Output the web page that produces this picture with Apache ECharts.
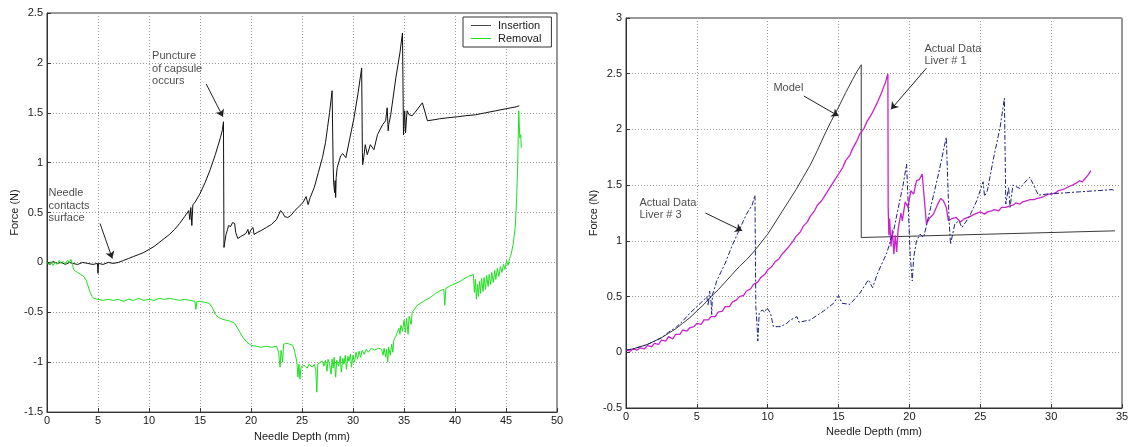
<!DOCTYPE html>
<html>
<head>
<meta charset="utf-8">
<script src="https://cdn.jsdelivr.net/npm/echarts@6/dist/echarts.min.js"></script>
<style>
html,body{margin:0;padding:0;background:#fff;}
#c{width:1140px;height:447px;}
</style>
</head>
<body>
<div id="c"></div>
<script>
// ---------- data ----------
const insertion = [[0,0],[0.3,-0.02],[0.6,0.01],[1,-0.01],[1.4,0.0],[1.8,-0.02],[2.2,0.0],[2.5,-0.01],[3,-0.02],[3.5,0],[4,-0.01],[4.5,-0.02],[4.95,-0.01],[5.0,-0.11],[5.05,-0.01],[5.5,-0.02],[6,0],[6.5,-0.01],[7,0.0],[7.5,0.02],[8,0.04],[8.5,0.06],[9,0.08],[9.5,0.1],[10,0.13],[10.5,0.16],[11,0.2],[11.5,0.24],[12,0.28],[12.5,0.33],[13,0.39],[13.5,0.46],[13.9,0.52],[14.0,0.43],[14.1,0.55],[14.2,0.37],[14.3,0.58],[14.5,0.6],[15,0.69],[15.5,0.8],[16,0.93],[16.5,1.08],[17,1.25],[17.2,1.33],[17.3,1.41],[17.35,0.15],[17.45,0.13],[17.55,0.28],[17.7,0.33],[17.8,0.37],[18.0,0.36],[18.2,0.4],[18.4,0.39],[18.5,0.3],[18.7,0.24],[19.0,0.26],[19.5,0.29],[19.7,0.33],[19.8,0.28],[20.0,0.33],[20.2,0.35],[20.3,0.28],[20.6,0.3],[21,0.32],[21.5,0.35],[22,0.38],[22.5,0.43],[22.9,0.52],[23.1,0.5],[23.3,0.46],[23.6,0.45],[23.9,0.47],[24.3,0.52],[24.7,0.56],[25.1,0.6],[25.4,0.66],[25.6,0.58],[25.8,0.65],[26.2,0.75],[26.6,0.9],[27.0,1.05],[27.3,1.2],[27.5,1.35],[27.7,1.5],[27.95,1.72],[28.05,1.0],[28.1,0.8],[28.2,0.7],[28.25,0.82],[28.3,0.65],[28.35,0.85],[28.45,0.95],[28.8,1.07],[29.0,1.09],[29.3,1.05],[29.7,1.25],[30.1,1.45],[30.5,1.7],[30.85,1.95],[30.92,1.1],[30.95,0.98],[31.05,1.05],[31.2,1.18],[31.4,1.08],[31.7,1.18],[32.05,1.13],[32.4,1.28],[32.9,1.38],[33.2,1.42],[33.35,1.55],[33.45,1.32],[33.5,1.38],[33.7,1.48],[34.2,1.85],[34.6,2.1],[34.85,2.3],[34.95,1.28],[35.07,1.52],[35.15,1.3],[35.3,1.52],[35.5,1.48],[35.8,1.47],[36.05,1.5],[36.8,1.6],[37.3,1.42],[37.95,1.43],[38.5,1.44],[39.3,1.45],[40.25,1.46],[41,1.47],[42,1.48],[43,1.5],[44,1.52],[45,1.54],[46,1.56],[46.3,1.57]];

const removal = [[0,0],[0.2,-0.02],[0.4,0.01],[0.6,-0.03],[0.8,0.0],[1.0,-0.02],[1.2,0.02],[1.4,-0.01],[1.6,0.01],[1.8,-0.02],[2.0,0.02],[2.2,0.0],[2.35,0.03],[2.5,-0.02],[2.6,-0.07],[2.8,-0.09],[3.0,-0.1],[3.3,-0.12],[3.6,-0.14],[3.85,-0.18],[4.0,-0.23],[4.2,-0.29],[4.4,-0.34],[4.6,-0.36],[5.0,-0.37],[5.5,-0.38],[6,-0.37],[6.5,-0.38],[7,-0.37],[7.5,-0.39],[8,-0.37],[8.5,-0.38],[9,-0.36],[9.5,-0.38],[10,-0.37],[10.5,-0.38],[11,-0.36],[11.5,-0.37],[12,-0.36],[12.5,-0.37],[13,-0.38],[13.5,-0.37],[14,-0.38],[14.5,-0.39],[14.6,-0.47],[14.7,-0.39],[15,-0.39],[15.5,-0.4],[15.9,-0.41],[16.2,-0.45],[16.5,-0.52],[16.8,-0.55],[17.2,-0.57],[17.6,-0.58],[18,-0.59],[18.4,-0.61],[18.8,-0.68],[19.2,-0.75],[19.6,-0.8],[20,-0.83],[20.5,-0.84],[21,-0.85],[21.5,-0.84],[22,-0.85],[22.5,-0.84],[22.7,-0.9],[22.85,-1.05],[22.95,-0.88],[23.1,-1.0],[23.2,-0.82],[23.5,-0.81],[23.8,-0.82],[24.1,-0.83],[24.3,-0.9],[24.5,-1.0],[24.6,-1.15],[24.7,-1.02],[24.8,-1.17],[24.9,-1.05],[25.2,-1.03],[25.5,-1.06],[25.7,-1.02],[26.0,-1.05],[26.2,-1.02],[26.35,-1.08],[26.45,-1.3],[26.55,-1.02],[26.8,-1.0],[27.0,-0.99],[27.15,-1.04],[27.3,-0.98],[27.45,-1.09],[27.55,-0.97],[27.7,-1.02],[27.85,-1.12],[27.95,-0.97],[28.05,-1.06],[28.15,-0.95],[28.3,-1.15],[28.4,-0.98],[28.6,-1.04],[28.75,-0.94],[28.85,-1.1],[29.0,-0.96],[29.1,-1.02],[29.25,-0.93],[29.35,-1.07],[29.5,-0.94],[29.6,-0.99],[29.75,-0.92],[29.85,-1.05],[30.0,-0.93],[30.15,-1.0],[30.3,-0.9],[30.45,-0.97],[30.6,-0.89],[30.75,-0.95],[30.9,-0.88],[31.1,-0.92],[31.3,-0.87],[31.5,-0.9],[31.8,-0.86],[32.1,-0.88],[32.5,-0.86],[32.8,-0.87],[32.95,-0.93],[33.05,-0.86],[33.2,-0.95],[33.3,-0.87],[33.4,-1.0],[33.5,-0.85],[33.65,-0.93],[33.8,-0.82],[33.9,-0.9],[34.0,-0.78],[34.2,-0.74],[34.35,-0.7],[34.5,-0.66],[34.6,-0.72],[34.7,-0.63],[34.85,-0.69],[35.0,-0.58],[35.15,-0.7],[35.25,-0.56],[35.4,-0.72],[35.5,-0.54],[35.7,-0.62],[35.8,-0.5],[36.3,-0.43],[36.9,-0.39],[37.6,-0.35],[38.1,-0.31],[38.6,-0.28],[38.9,-0.27],[39.0,-0.43],[39.1,-0.26],[39.6,-0.23],[40.3,-0.2],[40.8,-0.17],[41.3,-0.14],[41.8,-0.12],[41.9,-0.3],[42.0,-0.17],[42.1,-0.37],[42.2,-0.22],[42.3,-0.34],[42.4,-0.19],[42.5,-0.31],[42.6,-0.16],[42.75,-0.29],[42.85,-0.15],[43.0,-0.27],[43.1,-0.13],[43.25,-0.24],[43.35,-0.12],[43.5,-0.22],[43.6,-0.1],[43.75,-0.2],[43.9,-0.08],[44.0,-0.17],[44.15,-0.06],[44.3,-0.14],[44.45,-0.04],[44.6,-0.1],[44.75,-0.02],[44.9,-0.07],[45.05,0.02],[45.2,-0.03],[45.35,0.04],[45.5,0.08],[45.7,0.18],[45.9,0.35],[46.05,0.65],[46.15,1.0],[46.25,1.52],[46.35,1.25],[46.45,1.28],[46.5,1.15]];

const model = [[0,0.02],[0.5,0.03],[1,0.05],[1.5,0.07],[2,0.1],[2.5,0.13],[3,0.17],[3.5,0.21],[4,0.26],[4.5,0.31],[5,0.37],[5.5,0.43],[6,0.5],[6.5,0.56],[7,0.63],[7.5,0.7],[8,0.77],[8.5,0.83],[9,0.9],[9.5,0.98],[10,1.06],[10.5,1.16],[11,1.26],[11.5,1.36],[12,1.46],[12.5,1.57],[13,1.68],[13.5,1.81],[14,1.95],[14.5,2.08],[15,2.2],[15.5,2.33],[16,2.45],[16.3,2.52],[16.6,2.58],[16.6,1.03],[34.5,1.09]];

const liver1 = [[0,0.02],[0.3,0.01],[0.5,0.03],[0.8,0.02],[1,0.04],[1.3,0.03],[1.5,0.06],[1.8,0.05],[2,0.08],[2.3,0.07],[2.5,0.11],[2.8,0.1],[3,0.14],[3.3,0.12],[3.5,0.16],[3.8,0.16],[4,0.2],[4.3,0.19],[4.5,0.22],[4.8,0.23],[5,0.26],[5.3,0.25],[5.5,0.29],[5.8,0.29],[6,0.32],[6.3,0.32],[6.5,0.36],[6.8,0.37],[7,0.41],[7.3,0.41],[7.5,0.45],[7.8,0.47],[8,0.5],[8.3,0.51],[8.5,0.55],[8.8,0.57],[9,0.61],[9.3,0.63],[9.5,0.67],[9.8,0.7],[10,0.74],[10.3,0.77],[10.5,0.81],[10.8,0.84],[11,0.88],[11.3,0.92],[11.5,0.95],[11.8,1.0],[12,1.04],[12.3,1.08],[12.5,1.13],[12.8,1.17],[13,1.22],[13.3,1.27],[13.5,1.32],[13.8,1.36],[14,1.4],[14.3,1.46],[14.5,1.5],[14.8,1.56],[15,1.6],[15.3,1.66],[15.5,1.72],[15.8,1.77],[16,1.83],[16.3,1.9],[16.5,1.96],[16.8,2.01],[17,2.07],[17.3,2.13],[17.5,2.18],[17.8,2.26],[18,2.32],[18.3,2.42],[18.48,2.5],[18.5,1.3],[18.55,1.05],[18.6,1.2],[18.7,0.95],[18.8,1.1],[18.9,0.88],[19.0,1.05],[19.1,0.9],[19.2,1.1],[19.4,1.25],[19.5,1.18],[19.7,1.35],[19.9,1.3],[20.1,1.45],[20.3,1.42],[20.5,1.54],[20.7,1.55],[20.9,1.6],[21.0,1.45],[21.2,1.15],[21.4,1.2],[21.7,1.24],[22.0,1.33],[22.2,1.38],[22.4,1.36],[22.6,1.3],[22.75,1.18],[23.0,1.2],[23.3,1.21],[23.6,1.17],[23.9,1.2],[24.3,1.22],[24.6,1.24],[25,1.26],[25.3,1.24],[25.5,1.26],[25.8,1.27],[26,1.28],[26.3,1.27],[26.5,1.3],[26.8,1.3],[27,1.31],[27.3,1.32],[27.5,1.34],[27.8,1.33],[28,1.35],[28.3,1.36],[28.5,1.37],[28.8,1.37],[29,1.38],[29.3,1.39],[29.5,1.4],[29.8,1.42],[30,1.42],[30.3,1.43],[30.5,1.45],[30.8,1.46],[31,1.47],[31.3,1.49],[31.5,1.5],[31.8,1.52],[32,1.54],[32.2,1.53],[32.4,1.56],[32.6,1.59],[32.8,1.63]];

const liver3 = [[0,0.02],[0.5,0.03],[1,0.05],[1.5,0.07],[2,0.1],[2.5,0.13],[3,0.18],[3.5,0.22],[4,0.28],[4.5,0.35],[5,0.41],[5.5,0.47],[5.7,0.5],[5.8,0.42],[5.9,0.55],[6.0,0.45],[6.05,0.34],[6.1,0.52],[6.2,0.55],[6.4,0.64],[6.7,0.72],[7.0,0.8],[7.5,0.96],[8.0,1.1],[8.5,1.24],[8.9,1.32],[9.1,1.41],[9.16,0.41],[9.24,0.26],[9.3,0.1],[9.4,0.35],[9.6,0.38],[9.8,0.36],[9.95,0.4],[10.2,0.35],[10.4,0.23],[10.9,0.23],[11.35,0.26],[11.6,0.29],[12.06,0.32],[12.2,0.27],[13.0,0.29],[13.94,0.37],[14.65,0.44],[15.0,0.51],[15.24,0.44],[15.8,0.43],[16.5,0.53],[17.1,0.65],[17.2,0.66],[17.4,0.58],[17.7,0.69],[18.0,0.78],[18.4,0.89],[18.9,1.1],[19.3,1.35],[19.55,1.5],[19.8,1.69],[20.05,0.88],[20.16,0.7],[20.2,0.64],[20.3,0.85],[20.5,1.0],[20.75,1.06],[21.0,1.03],[21.5,1.3],[22.05,1.6],[22.6,1.93],[22.8,1.18],[22.9,0.97],[23.2,1.15],[23.5,1.18],[23.7,1.12],[24.2,1.21],[24.75,1.36],[25.2,1.53],[25.3,1.4],[25.5,1.45],[25.9,1.72],[26.4,2.02],[26.7,2.28],[26.8,1.33],[27.0,1.48],[27.1,1.3],[27.3,1.5],[27.8,1.47],[28.1,1.52],[28.5,1.57],[29.1,1.41],[29.7,1.42],[30.9,1.43],[32.0,1.44],[33.2,1.45],[34.3,1.46],[34.5,1.45]];

// ---------- chart ----------
const FONT = '"Liberation Sans", Arial, sans-serif';
const TXT = '#1a1a1a';
const chart = echarts.init(document.getElementById('c'), null, {renderer: 'canvas'});

function xAx(grid, max, name) {
  return {
    type: 'value', gridIndex: grid, min: 0, max: max, interval: 5,
    name: name, nameLocation: 'middle', nameGap: 17,
    nameTextStyle: {fontFamily: FONT, fontSize: 11, color: TXT},
    axisLine: {show: true, onZero: false, lineStyle: {color: '#333', width: 1}},
    axisTick: {show: true, inside: true, length: 4, lineStyle: {color: '#333'}},
    axisLabel: {fontFamily: FONT, fontSize: 11, color: TXT, margin: 3},
    splitLine: {show: true, lineStyle: {type: [1, 2], color: '#9a9a9a', width: 1}}
  };
}
function yAx(grid, min, max, gap) {
  return {
    type: 'value', gridIndex: grid, min: min, max: max, interval: 0.5,
    name: 'Force (N)', nameLocation: 'middle', nameGap: gap,
    nameTextStyle: {fontFamily: FONT, fontSize: 11, color: TXT},
    axisLine: {show: true, onZero: false, lineStyle: {color: '#333', width: 1}},
    axisTick: {show: true, inside: true, length: 4, lineStyle: {color: '#333'}},
    axisLabel: {fontFamily: FONT, fontSize: 11, color: TXT, margin: 4},
    splitLine: {show: true, lineStyle: {type: [1, 2], color: '#9a9a9a', width: 1}}
  };
}
function arrow(from, to) {
  return [{coord: from}, {coord: to}];
}
function note(xi, yi, pos, text) {
  return {
    type: 'scatter', xAxisIndex: xi, yAxisIndex: yi, symbolSize: 0, silent: true,
    data: [pos], z: 5,
    label: {show: true, position: 'right', distance: 0, formatter: text,
      fontFamily: FONT, fontSize: 11, color: TXT, lineHeight: 12.5, align: 'left', verticalAlign: 'middle'}
  };
}
const arrowStyle = {color: '#222', width: 1, type: 'solid'};

chart.setOption({
  animation: false,
  backgroundColor: '#fff',
  grid: [
    {left: 47, right: 583, top: 13, bottom: 34, show: true, borderColor: '#333', borderWidth: 1, backgroundColor: '#fff'},
    {left: 626, right: 18, top: 18, bottom: 39, show: true, borderColor: '#333', borderWidth: 1, backgroundColor: '#fff'}
  ],
  xAxis: [xAx(0, 50, 'Needle Depth (mm)'), xAx(1, 35, 'Needle Depth (mm)')],
  yAxis: [yAx(0, -1.5, 2.5, 27), yAx(1, -0.5, 3, 23)],
  legend: {
    data: ['Insertion', 'Removal'], orient: 'vertical', left: 463, top: 17,
    backgroundColor: '#fff', borderColor: '#333', borderWidth: 1,
    padding: [3, 10, 3, 8], itemGap: 2, itemWidth: 20, itemHeight: 1, icon: 'rect',
    textStyle: {fontFamily: FONT, fontSize: 11, color: TXT, padding: [0, 0, 0, 2]}
  },
  series: [
    {name: 'Insertion', type: 'line', xAxisIndex: 0, yAxisIndex: 0, data: insertion, showSymbol: false,
      lineStyle: {color: '#111', width: 1}, itemStyle: {color: '#444'},
      markLine: {silent: true, symbol: ['none', 'arrow'], symbolSize: 7, label: {show: false},
        lineStyle: arrowStyle,
        data: [arrow([5.2, 0.39], [6.4, 0.04]), arrow([15.6, 1.79], [17.25, 1.46])]}},
    {name: 'Removal', type: 'line', xAxisIndex: 0, yAxisIndex: 0, data: removal, showSymbol: false,
      lineStyle: {color: '#1ee01e', width: 1}, itemStyle: {color: '#1ee01e'}},
    {name: 'Model', type: 'line', xAxisIndex: 1, yAxisIndex: 1, data: model, showSymbol: false,
      lineStyle: {color: '#3a3a3a', width: 1}, itemStyle: {color: '#3a3a3a'},
      markLine: {silent: true, symbol: ['none', 'arrow'], symbolSize: 7, label: {show: false},
        lineStyle: arrowStyle,
        data: [arrow([12.55, 2.3], [15.0, 2.12]), arrow([21.2, 2.55], [18.7, 2.18]), arrow([5.6, 1.25], [8.2, 1.09])]}},
    {name: 'Actual Data Liver # 1', type: 'line', xAxisIndex: 1, yAxisIndex: 1, data: liver1, showSymbol: false,
      lineStyle: {color: '#cc22cc', width: 1.3}, itemStyle: {color: '#cc22cc'}},
    {name: 'Actual Data Liver # 3', type: 'line', xAxisIndex: 1, yAxisIndex: 1, data: liver3, showSymbol: false,
      lineStyle: {color: '#1c2380', width: 1, type: [5, 2, 2, 2]}, itemStyle: {color: '#1c2380'}},
    note(0, 0, [0.15, 0.57], 'Needle\ncontacts\nsurface'),
    note(0, 0, [10.3, 1.94], 'Puncture\nof capsule\noccurs'),
    note(1, 1, [10.4, 2.37], 'Model'),
    note(1, 1, [21.06, 2.67], 'Actual Data\nLiver # 1'),
    note(1, 1, [0.95, 1.285], 'Actual Data\nLiver # 3')
  ]
});
</script>
</body>
</html>
